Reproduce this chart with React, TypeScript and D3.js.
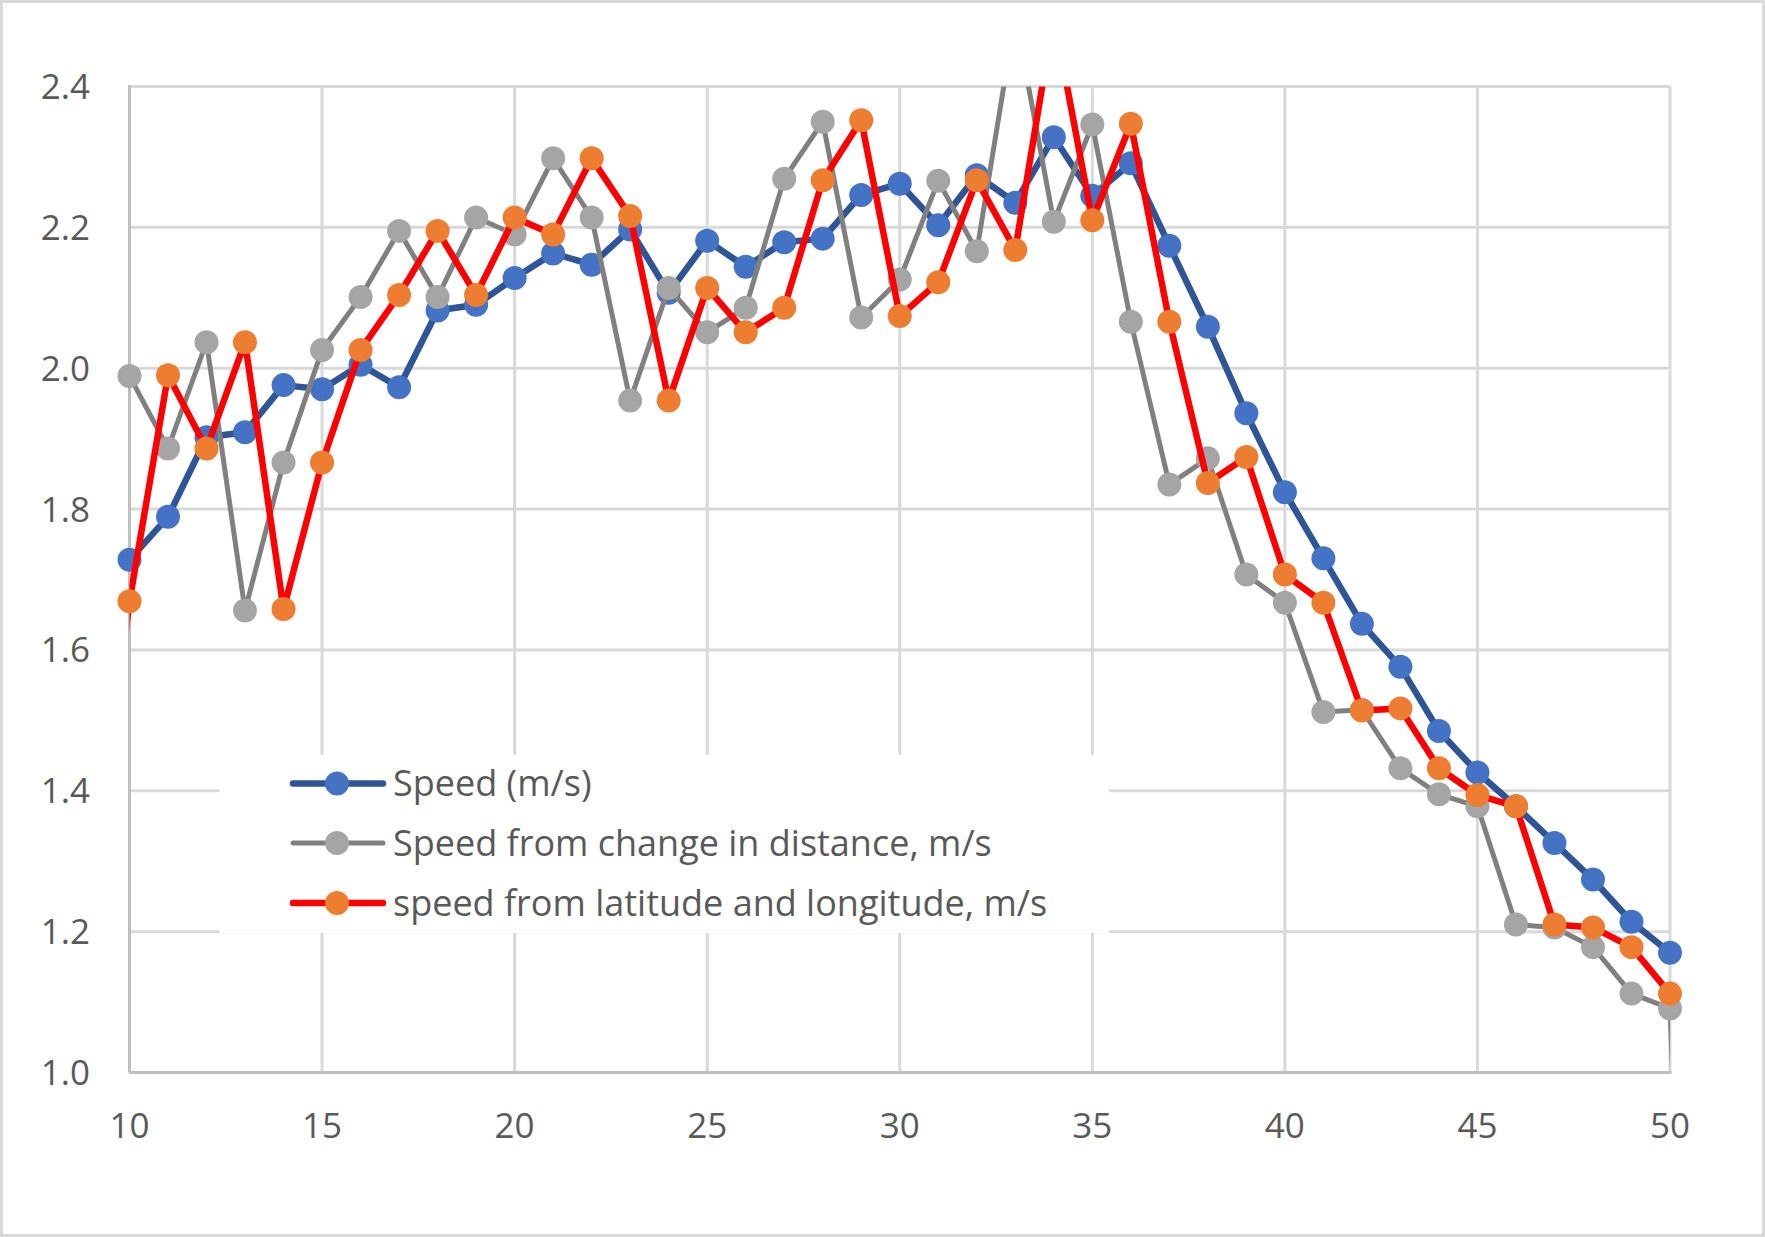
import { scaleLinear, line } from 'd3';

const WIDTH = 1765;
const HEIGHT = 1237;
const MARGIN = { left: 129.5, right: 95, top: 86.5, bottom: 164.5 };
const FONT = '"Open Sans", "Noto Sans", sans-serif';
const TEXT_COLOR = '#595959';

// x positions (seconds); 9 and 51 are just outside the visible axis range
const seconds = [
  9, 10, 11, 12, 13, 14, 15, 16, 17, 18, 19, 20, 21, 22, 23, 24, 25, 26, 27, 28, 29,
  30, 31, 32, 33, 34, 35, 36, 37, 38, 39, 40, 41, 42, 43, 44, 45, 46, 47, 48, 49, 50, 51,
];

const speed = [
  null, 1.728, 1.789, 1.902, 1.909, 1.976, 1.970, 2.005, 1.973, 2.082, 2.090, 2.128, 2.163,
  2.147, 2.197, 2.107, 2.181, 2.144, 2.179, 2.184, 2.246, 2.262, 2.203, 2.274, 2.235, 2.328,
  2.245, 2.291, 2.174, 2.059, 1.936, 1.824, 1.730, 1.637, 1.576, 1.485, 1.426, 1.378, 1.326,
  1.274, 1.214, 1.170, null,
];

const speedFromDistance = [
  1.669, 1.989, 1.886, 2.037, 1.656, 1.866, 2.026, 2.101, 2.195, 2.101, 2.214, 2.190, 2.298,
  2.214, 1.954, 2.114, 2.051, 2.086, 2.269, 2.350, 2.072, 2.126, 2.266, 2.166, 2.500, 2.208,
  2.346, 2.066, 1.835, 1.872, 1.707, 1.667, 1.512, 1.515, 1.432, 1.395, 1.378, 1.210, 1.206,
  1.178, 1.112, 1.091, -0.3,
];

const speedFromLatLon = [
  1.23, 1.669, 1.990, 1.886, 2.037, 1.658, 1.866, 2.026, 2.104, 2.195, 2.104, 2.214, 2.190,
  2.298, 2.216, 1.954, 2.114, 2.051, 2.086, 2.267, 2.352, 2.074, 2.122, 2.267, 2.168, 2.500,
  2.210, 2.347, 2.066, 1.837, 1.874, 1.707, 1.667, 1.514, 1.517, 1.432, 1.394, 1.378, 1.210,
  1.206, 1.178, 1.112, 1.091,
];

const xTicks = [10, 15, 20, 25, 30, 35, 40, 45, 50];
const yTicks = [1.0, 1.2, 1.4, 1.6, 1.8, 2.0, 2.2, 2.4];

interface Series {
  name: string;
  values: (number | null)[];
  stroke: string;
  marker: string;
  width: number;
}

const series: Series[] = [
  { name: 'Speed (m/s)', values: speed, stroke: '#2f5597', marker: '#4472c4', width: 6.5 },
  { name: 'Speed from change in distance, m/s', values: speedFromDistance, stroke: '#808080', marker: '#a5a5a5', width: 5 },
  { name: 'speed from latitude and longitude, m/s', values: speedFromLatLon, stroke: '#ff0000', marker: '#ed7d31', width: 6.5 },
];

export default function App() {
  const x = scaleLinear().domain([10, 50]).range([MARGIN.left, WIDTH - MARGIN.right]);
  const y = scaleLinear().domain([1.0, 2.4]).range([HEIGHT - MARGIN.bottom, MARGIN.top]);

  const [x0, x1] = x.range();
  const [yBottom, yTop] = y.range();
  const [xMin, xMax] = x.domain();
  const [yMin, yMax] = y.domain();

  const pathFor = (values: (number | null)[]) =>
    line<number | null>()
      .defined(d => d !== null)
      .x((_, i) => x(seconds[i]))
      .y(d => y(d as number))(values) ?? '';

  // Excel hides markers outside the axis range but keeps edge markers whole
  const visible = (v: number | null, i: number) =>
    v !== null && seconds[i] >= xMin && seconds[i] <= xMax && v >= yMin && v <= yMax;

  const legendX = 219.5;
  const legendY = 755;
  const legendRows = [783.5, 843, 903];

  return (
    <div style={{ position: 'absolute', left: 0, top: 0 }}>
      <svg width={WIDTH} height={HEIGHT} style={{ display: 'block', background: '#fff' }}>
        <defs>
          <clipPath id="plot">
            <rect x={x0} y={yTop} width={x1 - x0} height={yBottom - yTop} />
          </clipPath>
        </defs>

        {/* chart border */}
        <rect x={1.5} y={1.5} width={WIDTH - 3} height={HEIGHT - 3} fill="none" stroke="#d9d9d9" strokeWidth={3} />

        {/* gridlines */}
        {yTicks.map(t => (
          <line key={`gy${t}`} x1={x0} x2={x1} y1={y(t)} y2={y(t)} stroke="#d9d9d9" strokeWidth={3} />
        ))}
        {xTicks.map(t => (
          <line key={`gx${t}`} x1={x(t)} x2={x(t)} y1={yTop} y2={yBottom} stroke="#d9d9d9" strokeWidth={3} />
        ))}

        {/* axes */}
        <line x1={x0} x2={x0} y1={yTop - 1.5} y2={yBottom} stroke="#bfbfbf" strokeWidth={3} />
        <line x1={x0} x2={x1 + 1.5} y1={yBottom} y2={yBottom} stroke="#bfbfbf" strokeWidth={3} />

        {/* tick labels */}
        {yTicks.map(t => (
          <text key={`ly${t}`} x={90} y={y(t) + 12.5} textAnchor="end" fontFamily={FONT} fontSize={35} fill={TEXT_COLOR}>
            {t.toFixed(1)}
          </text>
        ))}
        {xTicks.map(t => (
          <text key={`lx${t}`} x={x(t)} y={1138} textAnchor="middle" fontFamily={FONT} fontSize={35} fill={TEXT_COLOR}>
            {t}
          </text>
        ))}

        {/* series: line then markers, in legend order */}
        {series.map(s => (
          <g key={s.name}>
            <path
              d={pathFor(s.values)}
              clipPath="url(#plot)"
              fill="none"
              stroke={s.stroke}
              strokeWidth={s.width}
              strokeLinejoin="round"
            />
            {s.values.map((v, i) =>
              visible(v, i) ? (
                <circle key={i} cx={x(seconds[i])} cy={y(v as number)} r={12} fill={s.marker} />
              ) : null,
            )}
          </g>
        ))}

        {/* legend */}
        <rect x={legendX} y={legendY} width={1109 - legendX} height={933 - legendY} fill="#fff" />
        {series.map((s, i) => (
          <g key={`leg${s.name}`}>
            <line x1={293} x2={383} y1={legendRows[i]} y2={legendRows[i]} stroke={s.stroke} strokeWidth={s.width} strokeLinecap="round" />
            <circle cx={337} cy={legendRows[i]} r={12} fill={s.marker} />
            <text x={393} y={legendRows[i] + 12.5} fontFamily={FONT} fontSize={36} fill={TEXT_COLOR}>
              {s.name}
            </text>
          </g>
        ))}
      </svg>
    </div>
  );
}
